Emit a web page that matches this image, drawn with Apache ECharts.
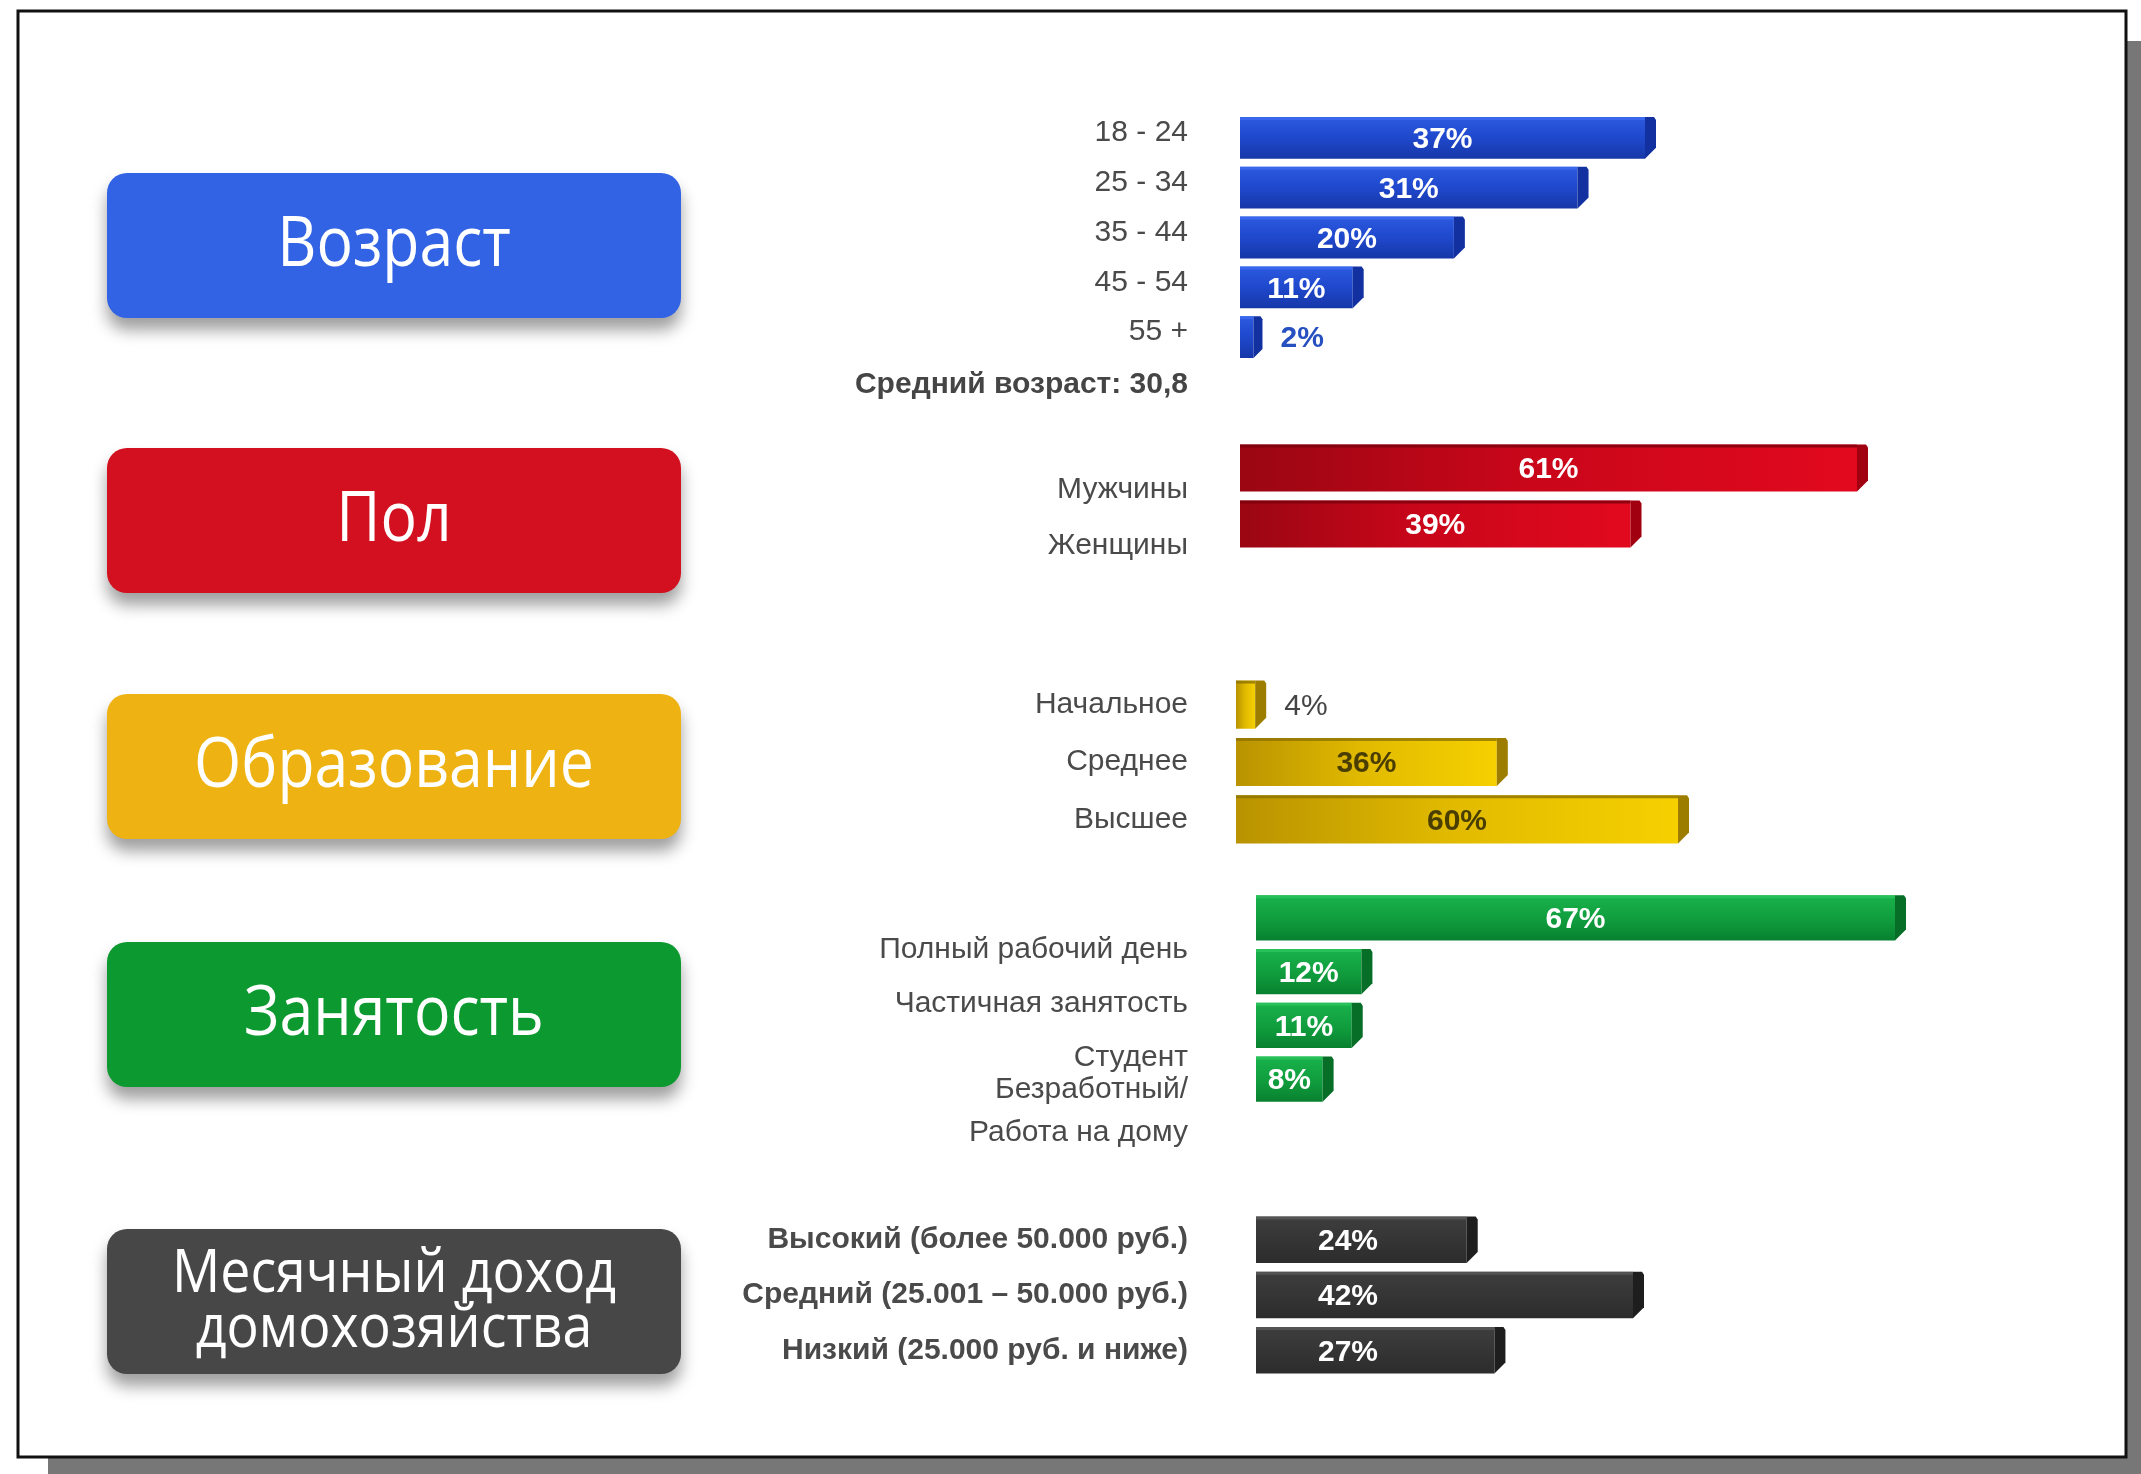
<!DOCTYPE html>
<html>
<head>
<meta charset="utf-8">
<script src="https://cdn.jsdelivr.net/npm/echarts@6/dist/echarts.min.js"></script>
<style>
  html, body { margin: 0; padding: 0; background: #fff; }
  #main { width: 2141px; height: 1474px; }
</style>
</head>
<body>
<div id="main"></div>
<script>
// данные
const titles = ['Возраст', 'Пол', 'Образование', 'Занятость', 'Месячный доход\nдомохозяйства'];

const ageCats = ['18 - 24', '25 - 34', '35 - 44', '45 - 54', '55 +'];
const ageVals = [37, 31, 20, 11, 2];
const ageNote = 'Средний возраст: 30,8';

const genderCats = ['Мужчины', 'Женщины'];
const genderVals = [61, 39];

const eduCats = ['Начальное', 'Среднее', 'Высшее'];
const eduVals = [4, 36, 60];

const jobCats = ['Полный рабочий день', 'Частичная занятость', 'Студент', 'Безработный/\nРабота на дому'];
const jobVals = [67, 12, 11, 8];

const incomeCats = ['Высокий (более 50.000 руб.)', 'Средний (25.001 – 50.000 руб.)', 'Низкий (25.000 руб. и ниже)'];
const incomeVals = [24, 42, 27];

const LG = echarts.graphic.LinearGradient;

// раскладка и стиль по блокам (shift - сдвиг подписей по вертикали, как на слайде)
const sections = [
  { cats: ageCats, vals: ageVals, top: 113, height: 249, left: 1240, width: 416, shift: -5, margin: 52, bold: false,
    boxTop: 173, boxColor: '#3163e4',
    body: new LG(0, 0, 0, 1, [{ offset: 0, color: '#2c5ae0' }, { offset: 0.5, color: '#1f48cc' }, { offset: 1, color: '#1637a8' }]),
    edge: '#3f6cf0', cap: '#1230a0', text: '#fff', outText: '#2650c0', inLeft: null },
  { cats: genderCats, vals: genderVals, top: 440, height: 112, left: 1240, width: 628, shift: 22, margin: 52, bold: false,
    boxTop: 448, boxColor: '#d3101f',
    body: new LG(0, 0, 1, 0, [{ offset: 0, color: '#9a0612' }, { offset: 0.45, color: '#c8061a' }, { offset: 1, color: '#e2091e' }]),
    edge: '#7a000c', cap: '#a0000f', text: '#fff', outText: '#c00010', inLeft: null },
  { cats: eduCats, vals: eduVals, top: 676, height: 172, left: 1236, width: 453, shift: 0, margin: 48, bold: false,
    boxTop: 694, boxColor: '#eeb213',
    body: new LG(0, 0, 1, 0, [{ offset: 0, color: '#b99300' }, { offset: 0.5, color: '#e2bb00' }, { offset: 1, color: '#f6d000' }]),
    edge: '#8f7300', cap: '#9c7d00', text: '#4a3d00', outText: '#444', inLeft: null },
  { cats: jobCats, vals: jobVals, top: 891, height: 215, left: 1256, width: 650, shift: 32, margin: 68, bold: false,
    boxTop: 942, boxColor: '#0c9a30',
    body: new LG(0, 0, 0, 1, [{ offset: 0, color: '#19b34c' }, { offset: 0.6, color: '#0f9a3c' }, { offset: 1, color: '#08802f' }]),
    edge: '#2cc45c', cap: '#066e27', text: '#fff', outText: '#0c8a30', inLeft: null },
  { cats: incomeCats, vals: incomeVals, top: 1212, height: 166, left: 1256, width: 388, shift: 0, margin: 68, bold: true,
    boxTop: 1229, boxColor: '#474747',
    body: new LG(0, 0, 0, 1, [{ offset: 0, color: '#3e3e3e' }, { offset: 1, color: '#2c2c2c' }]),
    edge: '#5a5a5a', cap: '#1e1e1e', text: '#fff', outText: '#333', inLeft: 62 }
];

function barRenderer(sec) {
  return function (params, api) {
    const v = api.value(0);
    const i = api.value(1);
    const p0 = api.coord([0, i]);
    const p1 = api.coord([v, i]);
    const h = api.size([0, 1])[1] * 0.84;
    const y = p0[1] - h / 2;
    const len = p1[0] - p0[0];
    const cap = Math.min(11, len * 0.4);
    const kids = [
      { type: 'rect', shape: { x: p0[0], y: y, width: len - cap, height: h }, style: { fill: sec.body } },
      { type: 'rect', shape: { x: p0[0], y: y, width: len - cap, height: 3 }, style: { fill: sec.edge, opacity: 0.8 } },
      { type: 'polygon', shape: { points: [[p1[0] - cap, y], [p1[0] - 2, y], [p1[0], y + 3], [p1[0], y + h - cap], [p1[0] - cap, y + h]] },
        style: { fill: sec.cap } }
    ];
    const inside = len > 70;
    let tx, align;
    if (!inside) { tx = p1[0] + 18; align = 'left'; }
    else if (sec.inLeft != null) { tx = p0[0] + sec.inLeft; align = 'left'; }
    else { tx = p0[0] + (len - cap) / 2; align = 'center'; }
    kids.push({
      type: 'text', x: tx, y: p0[1] + 2,
      style: {
        text: v + '%', align: align, verticalAlign: 'middle',
        fill: inside ? sec.text : sec.outText,
        font: (inside || sec === sections[0] ? 'bold ' : '') + '30px "Liberation Sans", Arial, sans-serif'
      }
    });
    return { type: 'group', children: kids };
  };
}

const grids = [], xAxes = [], yAxes = [], series = [];
const graphics = [
  // рамка с тенью
  { type: 'rect', z: -10, shape: { x: 48, y: 41, width: 2093, height: 1433 }, style: { fill: '#777' } },
  { type: 'rect', z: -9, shape: { x: 18, y: 11, width: 2108, height: 1446 }, style: { fill: '#fff', stroke: '#111', lineWidth: 3 } },
  { type: 'text', x: 1188, y: 385, style: { text: ageNote, align: 'right', verticalAlign: 'middle', fill: '#454545',
      font: 'bold 30px "Liberation Sans", Arial, sans-serif' } }
];

sections.forEach(function (sec, k) {
  const g = grids.length;
  // сетка со столбиками
  grids.push({ left: sec.left, top: sec.top, width: sec.width, height: sec.height });
  xAxes.push({ gridIndex: g, type: 'value', min: 0, max: Math.max.apply(null, sec.vals), show: false });
  yAxes.push({ gridIndex: g, type: 'category', data: sec.cats, inverse: true, show: false });
  series.push({
    type: 'custom', xAxisIndex: g, yAxisIndex: g,
    renderItem: barRenderer(sec),
    encode: { x: 0, y: 1 },
    data: sec.vals.map(function (v, i) { return [v, i]; })
  });
  // сетка для подписей категорий (сдвинута как в оригинале)
  grids.push({ left: sec.left, top: sec.top + sec.shift, width: sec.width, height: sec.height });
  xAxes.push({ gridIndex: g + 1, type: 'value', min: 0, max: 1, show: false });
  yAxes.push({
    gridIndex: g + 1, type: 'category', data: sec.cats, inverse: true,
    axisLine: { show: false }, axisTick: { show: false }, splitLine: { show: false },
    axisLabel: {
      interval: 0, margin: sec.margin, color: '#4a4a4a', fontSize: 30, lineHeight: 43,
      fontWeight: sec.bold ? 'bold' : 'normal', fontFamily: '"Liberation Sans", Arial, sans-serif'
    }
  });

  const two = titles[k].indexOf('\n') >= 0;
  graphics.push({
    type: 'group', x: 107, y: sec.boxTop,
    children: [
      { type: 'rect', shape: { x: 0, y: 0, width: 574, height: 145, r: 20 },
        style: { fill: sec.boxColor, shadowBlur: 16, shadowOffsetY: 12, shadowColor: 'rgba(0,0,0,0.38)' } },
      { type: 'text', x: 287, y: 73, scaleX: 0.88,
        style: { text: titles[k], align: 'center', verticalAlign: 'middle', fill: '#fff',
          font: (two ? '61px' : '69px') + ' "Open Sans", sans-serif', lineHeight: 55 } }
    ]
  });
});

const chart = echarts.init(document.getElementById('main'));
chart.setOption({
  backgroundColor: '#fff',
  animation: false,
  grid: grids,
  xAxis: xAxes,
  yAxis: yAxes,
  series: series,
  graphic: graphics
});
</script>
</body>
</html>
